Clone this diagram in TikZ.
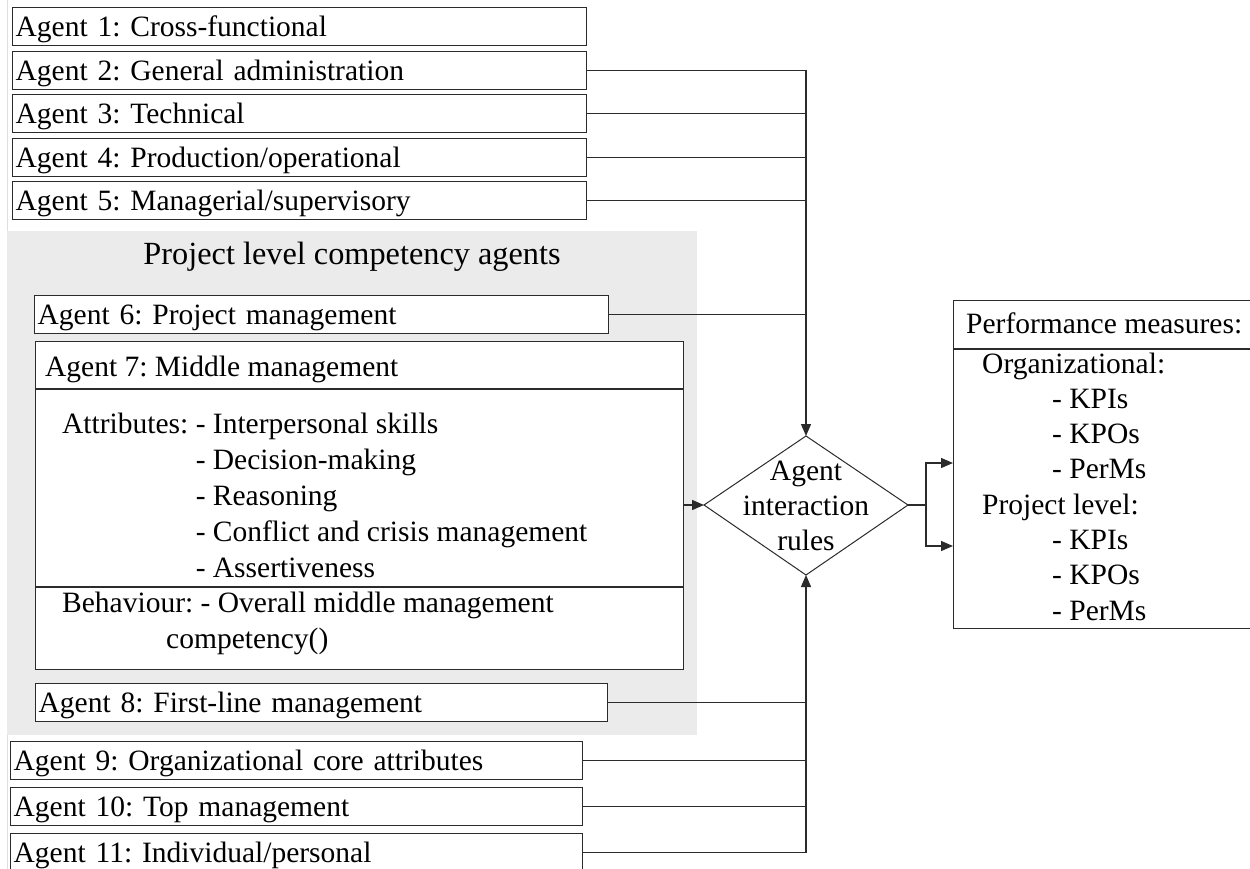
\documentclass[tikz,border=0pt]{standalone}
\usepackage{fontspec}
\setmainfont{Liberation Serif}
\usetikzlibrary{arrows.meta,calc}
\definecolor{ln}{HTML}{2B2B2B}
\definecolor{panel}{HTML}{EBEBEB}
\tikzset{
  fnt/.style={font=\fontsize{29.5}{35.3}\selectfont\frenchspacing},
  txt/.style={fnt, inner sep=0pt, text=black},
  agentbox/.style={draw=ln, line width=1.4pt, fill=white, anchor=north west, fnt,
    inner xsep=3pt, inner ysep=0pt, text height=26pt, text depth=6pt,
    minimum height=38pt, align=left},
  plainbox/.style={draw=ln, line width=1.4pt, fill=white, anchor=north west, inner sep=0pt},
  conn/.style={draw=ln, line width=1.4pt},
  arr/.style={conn, -{Triangle[length=12pt,width=10pt]}},
}
\begin{document}
\begin{tikzpicture}[x=1pt,y=-1pt]
\useasboundingbox (0,0) rectangle (1250,869);
\draw[gray!25, line width=1pt] (7.5,0) -- (7.5,869);

% upper agents
\node[agentbox, text width=568pt] (a1) at (12,7) {Agent 1: Cross-functional};
\node[agentbox, text width=568pt] (a2) at (12,51) {Agent 2: General administration};
\node[agentbox, text width=568pt] (a3) at (12,94) {Agent 3: Technical};
\node[agentbox, text width=568pt] (a4) at (12,138) {Agent 4: Production/operational};
\node[agentbox, text width=568pt] (a5) at (12,181) {Agent 5: Managerial/supervisory};

% project level panel
\fill[panel] (7,231) rectangle (697,735);
\node[inner sep=0pt, font=\fontsize{32.3}{38}\selectfont, anchor=base] (ttl) at (352,264) {Project level competency agents};

\node[agentbox, text width=568pt] (a6) at (34,295) {Agent 6: Project management};

\node[plainbox, minimum width=648pt, minimum height=328pt] (a7) at (35,341) {};
\draw[conn] ($(a7.north west)+(0,48)$) -- ($(a7.north east)+(0,48)$);
\draw[conn] ($(a7.north west)+(0,246)$) -- ($(a7.north east)+(0,246)$);
\node[txt, anchor=base west] (a7h) at (45,376) {Agent 7: Middle management};
\node[txt, anchor=base west] (a7a1) at (62,433) {Attributes: - Interpersonal skills};
\node[txt, anchor=base west] (a7a2) at (62,469) {\phantom{Attributes: }- Decision-making};
\node[txt, anchor=base west] (a7a3) at (62,505) {\phantom{Attributes: }- Reasoning};
\node[txt, anchor=base west] (a7a4) at (62,541) {\phantom{Attributes: }- Conflict and crisis management};
\node[txt, anchor=base west] (a7a5) at (62,577) {\phantom{Attributes: }- Assertiveness};
\node[txt, anchor=base west] (a7b1) at (62,612) {Behaviour: - Overall middle management};
\node[txt, anchor=base west] (a7b2) at (166,648) {competency()};

\node[agentbox, text width=566pt] (a8) at (35,683) {Agent 8: First-line management};

% lower agents
\node[agentbox, text width=566pt] (a9) at (10,741) {Agent 9: Organizational core attributes};
\node[agentbox, text width=566pt] (a10) at (10,787) {Agent 10: Top management};
\node[agentbox, text width=566pt] (a11) at (10,833) {Agent 11: Individual/personal};

% diamond
\coordinate (dt) at (806,436);
\coordinate (dr) at (908,505);
\coordinate (db) at (806,575);
\coordinate (dl) at (704,505);
\draw[draw=ln, line width=1pt, fill=white] (dt) -- (dr) -- (db) -- (dl) -- cycle;
\node[txt, anchor=base] (d1) at (806,480) {Agent};
\node[txt, anchor=base] (d2) at (806,515) {interaction};
\node[txt, anchor=base] (d3) at (806,550) {rules};

% performance measures
\node[plainbox, minimum width=320pt, minimum height=328pt] (pm) at (953,300) {};
\draw[conn] ($(pm.north west)+(0,49)$) -- ($(pm.north east)+(0,49)$);
\node[txt, anchor=base west] (p0) at (966,333) {Performance measures:};
\node[txt, anchor=base west] (p1) at (982,373) {Organizational:};
\node[txt, anchor=base west] (p2) at (1052,408.5) {- KPIs};
\node[txt, anchor=base west] (p3) at (1052,443.5) {- KPOs};
\node[txt, anchor=base west] (p4) at (1052,478.5) {- PerMs};
\node[txt, anchor=base west] (p5) at (982,514) {Project level:};
\node[txt, anchor=base west] (p6) at (1052,549) {- KPIs};
\node[txt, anchor=base west] (p7) at (1052,584.5) {- KPOs};
\node[txt, anchor=base west] (p8) at (1052,620) {- PerMs};

% connectors
\draw[arr] (a2.east) -| (dt);
\foreach \n in {a3,a4,a5,a6} \draw[conn] (\n.east) -- (\n.east -| dt);
\draw[arr] (a11.east) -| (db);
\foreach \n in {a8,a9,a10} \draw[conn] (\n.east) -- (\n.east -| db);
\draw[arr] (a7.east |- dl) -- (dl);
\coordinate (sp) at (926,505);
\coordinate (pin1) at ($(pm.north west)+(0,163)$);
\coordinate (pin2) at ($(pm.north west)+(0,246)$);
\draw[conn] (dr) -- (sp);
\draw[arr] (sp) |- (pin1);
\draw[arr] (sp) |- (pin2);
\end{tikzpicture}
\end{document}
